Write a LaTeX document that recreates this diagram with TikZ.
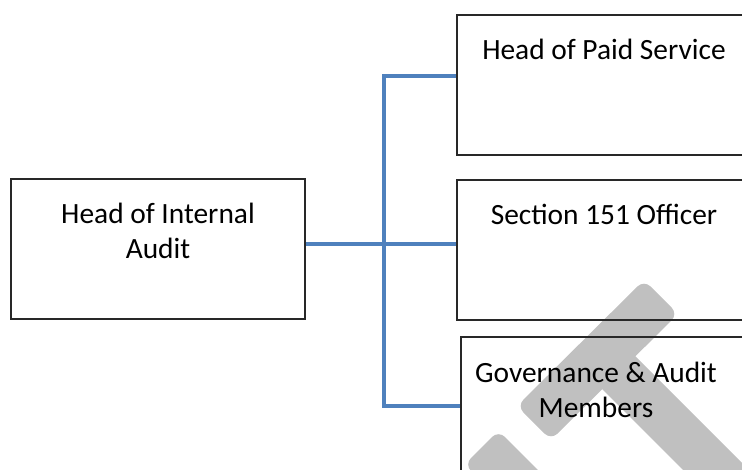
\documentclass[tikz,border=0pt]{standalone}
\usepackage{fontspec}
\setmainfont{Carlito}
\definecolor{wmgrey}{RGB}{192,192,192}
\definecolor{linkblue}{RGB}{79,129,189}
\definecolor{boxline}{RGB}{40,40,40}
\tikzset{
  orgbox/.style={draw=boxline, line width=1.1pt, rectangle, inner sep=0pt,
    minimum width=294pt, minimum height=140pt},
  lbl/.style={anchor=base, inner sep=0pt, font=\fontsize{29.4}{34}\selectfont},
  link/.style={draw=linkblue, line width=3.2pt},
  wm/.style={fill=wmgrey, rounded corners=9pt}
}
\begin{document}
\begin{tikzpicture}[x=1pt,y=-1pt]
\useasboundingbox (0,0) rectangle (742,469);
\clip (0,0) rectangle (742,469);
\fill[white] (0,0) rectangle (742,469);
% watermark fragments
\fill[wm] (644,280) -- (678,314) -- (551,440) -- (517,406) -- cycle;
\fill[wmgrey] (597,384) -- (630,351) -- (790,511) -- (757,544) -- cycle;
\fill[wm] (498.5,430.5) -- (464.5,464.5) -- (600,600) -- (634,566) -- cycle;
% boxes
\node[orgbox] (hia) at (158,249) {};
\node[orgbox] (hps) at (604,85) {};
\node[orgbox] (s151) at (604,250) {};
\node[orgbox] (gam) at (608,407) {};
% labels
\node[lbl] (t1a) at (158,223) {Head of Internal};
\node[lbl] (t1b) at (158,258) {Audit};
\node[lbl] (t2) at (604,59) {Head of Paid Service};
\node[lbl] (t3) at (604,224) {Section 151 Officer};
\node[lbl] (t4a) at (596,382) {Governance \& Audit};
\node[lbl] (t4b) at (596,417) {Members};
% connectors
\coordinate (j1) at (384,76);
\coordinate (j2) at (384,244);
\coordinate (j3) at (384,406);
\draw[link] (j2 -| hia.east) -- (j2) -- (j2 -| s151.west);
\draw[link] (j1 -| hps.west) -- (j1) -- (j3) -- (j3 -| gam.west);
\end{tikzpicture}
\end{document}
